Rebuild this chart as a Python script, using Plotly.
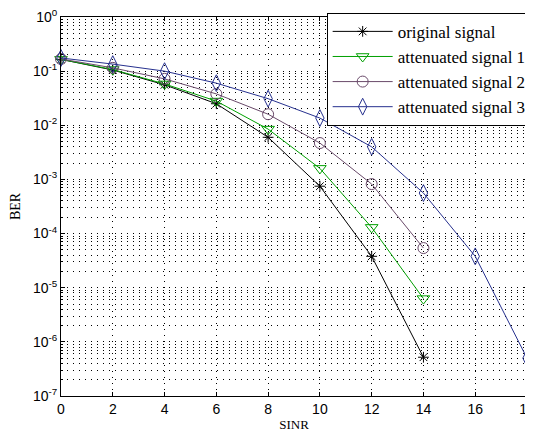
import plotly.graph_objects as go

sinr = [0, 2, 4, 6, 8, 10, 12, 14, 16, 18]

original = [0.165, 0.105, 0.056, 0.025, 6.0e-3, 7.5e-4, 3.8e-5, 5.2e-7]
atten1 = [0.165, 0.107, 0.058, 0.028, 8.5e-3, 1.6e-3, 1.3e-4, 6.3e-6]
atten2 = [0.168, 0.115, 0.072, 0.038, 0.016, 4.7e-3, 8.2e-4, 5.4e-5]
atten3 = [0.175, 0.135, 0.1, 0.06, 0.031, 0.0136, 4.0e-3, 5.6e-4, 3.8e-5, 5.0e-7]

names = ["original signal", "attenuated signal 1", "attenuated signal 2", "attenuated signal 3"]
series = [original, atten1, atten2, atten3]
colors = ["#000000", "#00a000", "#6a4a6a", "#27318f"]
symbols = ["asterisk-open", "triangle-down-open", "circle-open", "diamond-tall-open"]
sizes = [9, 11, 11, 12]

ytickvals = [1, 1e-1, 1e-2, 1e-3, 1e-4, 1e-5, 1e-6, 1e-7]
yticktext = ["10<sup>0</sup>", "10<sup>-1</sup>", "10<sup>-2</sup>", "10<sup>-3</sup>",
             "10<sup>-4</sup>", "10<sup>-5</sup>", "10<sup>-6</sup>", "10<sup>-7</sup>"]
yminor = [m * 10.0 ** e for e in range(-7, 0) for m in range(2, 10)]

fig = go.Figure()
for name, ys, c, s, sz in zip(names, series, colors, symbols, sizes):
    fig.add_trace(go.Scatter(
        x=sinr[:len(ys)], y=ys, name=name, mode="lines+markers",
        line=dict(color=c, width=1), cliponaxis=False,
        marker=dict(symbol=s, size=sz, color=c, line=dict(color=c, width=1)),
    ))

DOT = "1px,5px"

# page body has an 8px margin, so figure is 8px smaller and margins shifted
fig.update_layout(
    width=525, height=430,
    margin=dict(l=53, r=6, t=9, b=42, autoexpand=False),
    paper_bgcolor="white", plot_bgcolor="white",
    showlegend=True,
    legend=dict(
        x=1.01, y=1.011, xanchor="right", yanchor="top",
        bgcolor="white", bordercolor="black", borderwidth=1,
        font=dict(family="Liberation Serif", size=17, color="black"),
        tracegroupgap=0, itemwidth=60,
    ),
    font=dict(family="Liberation Sans", size=13, color="black"),
)

fig.update_xaxes(
    range=[0, 18], tickvals=[0, 2, 4, 6, 8, 10, 12, 14, 16, 18],
    showline=True, mirror="ticks", linecolor="black", linewidth=1,
    ticks="inside", ticklen=4, tickcolor="black",
    showgrid=True, gridcolor="black", griddash=DOT, gridwidth=1,
    zeroline=False, automargin=False, ticklabeloverflow="allow",
    title=dict(text="SINR", font=dict(family="Liberation Serif", size=13), standoff=4),
    tickfont=dict(family="Liberation Sans", size=14),
)

fig.update_yaxes(
    type="log", range=[-7, 0],
    tickvals=ytickvals, ticktext=yticktext,
    showline=True, mirror="ticks", linecolor="black", linewidth=1,
    ticks="inside", ticklen=4, tickcolor="black",
    showgrid=True, gridcolor="black", griddash=DOT, gridwidth=1,
    minor=dict(tickmode="array", tickvals=yminor,
               showgrid=True, gridcolor="black", griddash=DOT, gridwidth=1,
               ticks="inside", ticklen=2, tickcolor="black"),
    zeroline=False, automargin=False, ticklabeloverflow="allow",
    title=dict(text="BER", font=dict(family="Liberation Serif", size=14), standoff=14),
    tickfont=dict(family="Liberation Sans", size=14),
)

fig.write_html("out.html")
